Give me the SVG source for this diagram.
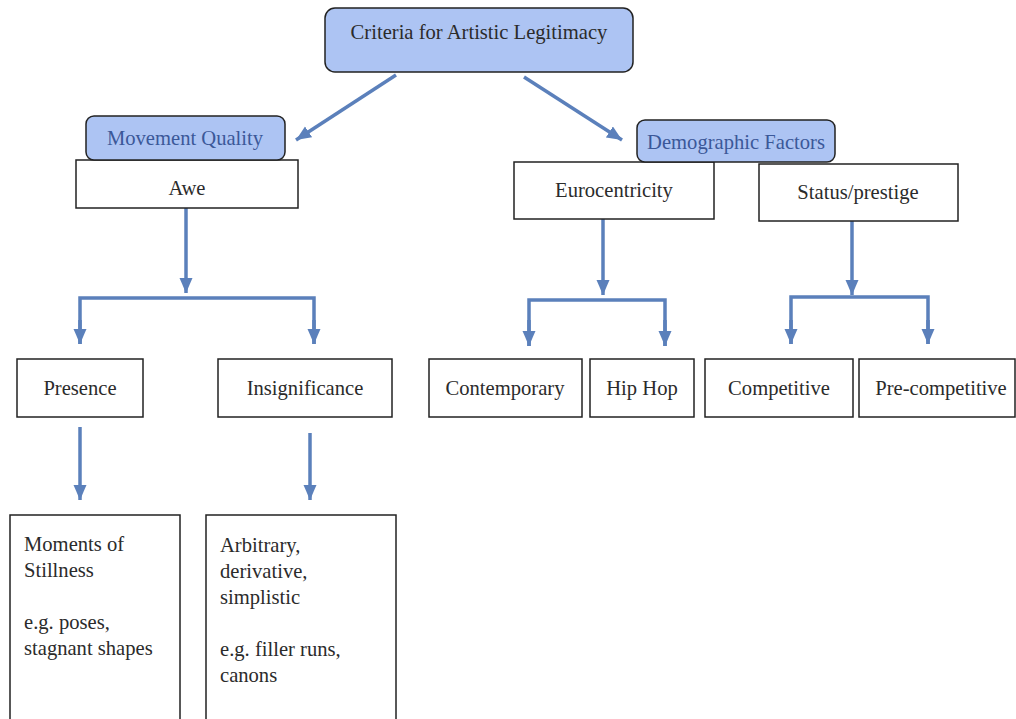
<svg xmlns="http://www.w3.org/2000/svg" width="1016" height="719" viewBox="0 0 1016 719">
<style>
.box{fill:#fff;stroke:#222;stroke-width:1.5}
.blue{fill:#adc4f3;stroke:#222;stroke-width:1.5}
.t{font-family:"Liberation Serif","Times New Roman",serif;font-size:20.6px;fill:#2b2b2b}
.tb{font-family:"Liberation Serif","Times New Roman",serif;font-size:20.6px;fill:#3b5899}
.c{text-anchor:middle}
.ln{fill:none;stroke:#5b80bb;stroke-width:3.5}
</style>
<defs>
<marker id="ah" markerUnits="userSpaceOnUse" markerWidth="16" markerHeight="14" refX="15" refY="6.5" orient="auto">
<path d="M0,0 L15,6.5 L0,13 z" fill="#5b80bb"/>
</marker>
</defs>
<g id="connectors">
<line class="ln" x1="396" y1="75" x2="296" y2="140" marker-end="url(#ah)"/>
<line class="ln" x1="524" y1="77" x2="622" y2="140" marker-end="url(#ah)"/>
<line class="ln" x1="186" y1="208" x2="186" y2="293" marker-end="url(#ah)"/>
<path class="ln" d="M80,344 L80,298 L314,298 L314,344"/>
<line class="ln" x1="80" y1="320" x2="80" y2="344" marker-end="url(#ah)"/>
<line class="ln" x1="314" y1="320" x2="314" y2="344" marker-end="url(#ah)"/>
<line class="ln" x1="603" y1="219" x2="603" y2="295" marker-end="url(#ah)"/>
<path class="ln" d="M529,346 L529,300 L665,300 L665,346"/>
<line class="ln" x1="529" y1="320" x2="529" y2="346" marker-end="url(#ah)"/>
<line class="ln" x1="665" y1="320" x2="665" y2="346" marker-end="url(#ah)"/>
<line class="ln" x1="852" y1="221" x2="852" y2="295" marker-end="url(#ah)"/>
<path class="ln" d="M791,344 L791,297 L928,297 L928,344"/>
<line class="ln" x1="791" y1="320" x2="791" y2="344" marker-end="url(#ah)"/>
<line class="ln" x1="928" y1="320" x2="928" y2="344" marker-end="url(#ah)"/>
<line class="ln" x1="80" y1="427" x2="80" y2="500" marker-end="url(#ah)"/>
<line class="ln" x1="310" y1="433" x2="310" y2="500" marker-end="url(#ah)"/>
</g>
<g id="root"><rect class="blue" x="325" y="8" width="308" height="64" rx="10"/><text class="t c" x="479" y="39">Criteria for Artistic Legitimacy</text></g>
<g id="awe"><rect class="box" x="76" y="160" width="222" height="48"/><text class="t c" x="187" y="195">Awe</text></g>
<g id="movement"><rect class="blue" x="86" y="116" width="199" height="44" rx="8"/><text class="tb c" x="185" y="145">Movement Quality</text></g>
<g id="euro"><rect class="box" x="514" y="162" width="200" height="57"/><text class="t c" x="614" y="197">Eurocentricity</text></g>
<g id="status"><rect class="box" x="759" y="164" width="199" height="57"/><text class="t c" x="858" y="199">Status/prestige</text></g>
<g id="demographic"><rect class="blue" x="637" y="120" width="198" height="42" rx="8"/><text class="tb c" x="736" y="149">Demographic Factors</text></g>
<g id="presence"><rect class="box" x="17" y="359" width="126" height="58"/><text class="t c" x="80" y="395">Presence</text></g>
<g id="insignificance"><rect class="box" x="218" y="359" width="174" height="58"/><text class="t c" x="305" y="395">Insignificance</text></g>
<g id="contemporary"><rect class="box" x="429" y="359" width="153" height="58"/><text class="t c" x="505" y="395">Contemporary</text></g>
<g id="hiphop"><rect class="box" x="590" y="359" width="104" height="58"/><text class="t c" x="642" y="395">Hip Hop</text></g>
<g id="competitive"><rect class="box" x="705" y="359" width="148" height="58"/><text class="t c" x="779" y="395">Competitive</text></g>
<g id="precompetitive"><rect class="box" x="859" y="359" width="156" height="58"/><text class="t c" x="941" y="395">Pre-competitive</text></g>
<g id="moments"><rect class="box" x="10" y="515" width="170" height="220"/>
<text class="t" x="24" y="551"><tspan x="24">Moments of</tspan><tspan x="24" dy="26">Stillness</tspan><tspan x="24" dy="52">e.g. poses,</tspan><tspan x="24" dy="26">stagnant shapes</tspan></text></g>
<g id="arbitrary"><rect class="box" x="206" y="515" width="190" height="220"/>
<text class="t" x="220" y="552"><tspan x="220">Arbitrary,</tspan><tspan x="220" dy="26">derivative,</tspan><tspan x="220" dy="26">simplistic</tspan><tspan x="220" dy="52">e.g. filler runs,</tspan><tspan x="220" dy="26">canons</tspan></text></g>
</svg>
